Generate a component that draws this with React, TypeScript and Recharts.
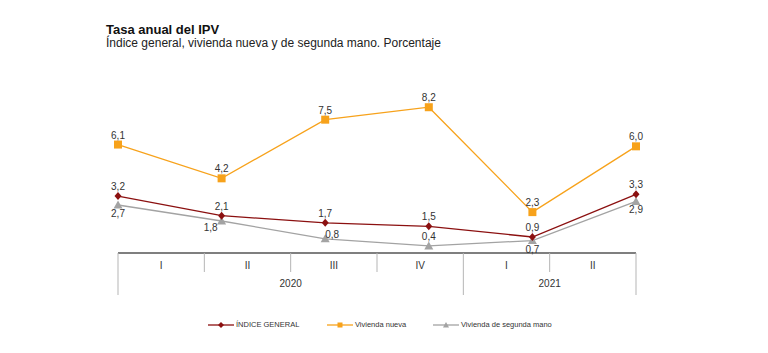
import React from "react";
import { LineChart, Line, XAxis, YAxis, LabelList } from "recharts";

const quarters = ["I", "II", "III", "IV", "I", "II"];
const years = ["2020", "2021"];
const yearSpans = [4, 2];
const indiceGeneral = [3.2, 2.1, 1.7, 1.5, 0.9, 3.3];
const viviendaNueva = [6.1, 4.2, 7.5, 8.2, 2.3, 6.0];
const segundaMano = [2.7, 1.8, 0.8, 0.4, 0.7, 2.9];

const W = 768, H = 353;
const M = { top: 93, right: 132, bottom: 50, left: 118 };
const AXIS_H = 50;
const AXIS_Y = H - M.bottom - AXIS_H;
const BAND = (W - M.left - M.right) / quarters.length;

const RED = "#8B1010";
const ORANGE = "#F7A21B";
const GRAY = "#A3A3A3";
const FONT = "'Liberation Sans', Arial, sans-serif";

// where each value label sits relative to its marker
type Pos = "above" | "below" | "left" | "right";
const redPos: Pos[] = ["above", "above", "above", "above", "above", "above"];
const orangePos: Pos[] = ["above", "above", "above", "above", "above", "above"];
const grayPos: Pos[] = ["below", "left", "right", "above", "below", "below"];

const yearStarts = yearSpans.map((_, i) => yearSpans.slice(0, i).reduce((s, v) => s + v, 0));

const data = quarters.map((q, i) => ({
  q,
  general: indiceGeneral[i],
  nueva: viviendaNueva[i],
  segunda: segundaMano[i],
}));

const fmt = (v: number) => v.toFixed(1).replace(".", ",");

function QuarterTick(props: any) {
  const i = props.payload.index;
  const left = M.left + BAND * i;
  const cx = left + BAND / 2;
  const g = yearStarts.indexOf(i);
  const last = i === quarters.length - 1;
  return (
    <g>
      <line x1={left} x2={left} y1={AXIS_Y} y2={g >= 0 ? AXIS_Y + 42 : AXIS_Y + 19} stroke="#b5b5b5" />
      {last && <line x1={left + BAND} x2={left + BAND} y1={AXIS_Y} y2={AXIS_Y + 42} stroke="#b5b5b5" />}
      <text x={cx} y={AXIS_Y + 16} textAnchor="middle" fontSize={10} fill="#333" fontFamily={FONT}>{quarters[i]}</text>
      {g >= 0 && (
        <text x={left + (yearSpans[g] * BAND) / 2} y={AXIS_Y + 34} textAnchor="middle" fontSize={10} fill="#333" fontFamily={FONT}>
          {years[g]}
        </text>
      )}
    </g>
  );
}

function makeLabel(pos: Pos[]) {
  return function Lbl(props: any) {
    const { x, y, value, index } = props;
    const p = pos[index];
    let tx = x, ty = y - 6, anchor: "middle" | "start" | "end" = "middle";
    if (p === "below") ty = y + 12;
    if (p === "left") { tx = x - 4; ty = y + 10; anchor = "end"; }
    if (p === "right") { tx = x; ty = y - 1; anchor = "start"; }
    return (
      <text x={tx} y={ty} textAnchor={anchor} fontSize={10} fill="#333" fontFamily={FONT}>{fmt(value)}</text>
    );
  };
}

const Diamond = (p: any) => (
  <polygon key={p.index} points={`${p.cx},${p.cy - 4} ${p.cx + 3.5},${p.cy} ${p.cx},${p.cy + 4} ${p.cx - 3.5},${p.cy}`} fill={RED} />
);
const Square = (p: any) => <rect key={p.index} x={p.cx - 4} y={p.cy - 4} width={8} height={8} fill={ORANGE} />;
const Triangle = (p: any) => (
  <polygon key={p.index} points={`${p.cx},${p.cy - 4.5} ${p.cx + 4.5},${p.cy + 3.5} ${p.cx - 4.5},${p.cy + 3.5}`} fill={GRAY} />
);

function LegendItem({ color, label, marker }: { color: string; label: string; marker: "d" | "s" | "t" }) {
  return (
    <div style={{ display: "flex", alignItems: "center" }}>
      <svg width={26} height={8}>
        <line x1={0} x2={26} y1={4} y2={4} stroke={color} strokeWidth={1.3} />
        {marker === "d" && <polygon points="13,1 16,4 13,7 10,4" fill={color} />}
        {marker === "s" && <rect x={10.5} y={1.5} width={5} height={5} fill={color} />}
        {marker === "t" && <polygon points="13,1 16,6.5 10,6.5" fill={color} />}
      </svg>
      <span style={{ fontSize: 7.5, color: "#333", marginLeft: 2 }}>{label}</span>
    </div>
  );
}

export default function App() {
  return (
    <div style={{ position: "fixed", left: 0, top: 0, width: W, height: H, background: "#fff", fontFamily: FONT }}>
      <div style={{ position: "absolute", left: 106, top: 23, fontSize: 13, lineHeight: "13px", fontWeight: "bold", color: "#111" }}>
        Tasa anual del IPV
      </div>
      <div style={{ position: "absolute", left: 106, top: 37.5, fontSize: 12, lineHeight: "11px", color: "#222" }}>
        Índice general, vivienda nueva y de segunda mano. Porcentaje
      </div>
      <div style={{ position: "absolute", left: 0, top: 0 }}>
        <LineChart width={W} height={H} data={data} margin={M}>
          <XAxis dataKey="q" height={AXIS_H} interval={0} tickLine={false} axisLine={{ stroke: "#555", strokeWidth: 1.5 }} tick={<QuarterTick />} />
          <YAxis hide domain={[0, 9]} />
          <Line dataKey="nueva" stroke={ORANGE} strokeWidth={1.3} dot={Square} isAnimationActive={false}>
            <LabelList dataKey="nueva" content={makeLabel(orangePos)} />
          </Line>
          <Line dataKey="segunda" stroke={GRAY} strokeWidth={1.3} dot={Triangle} isAnimationActive={false}>
            <LabelList dataKey="segunda" content={makeLabel(grayPos)} />
          </Line>
          <Line dataKey="general" stroke={RED} strokeWidth={1.3} dot={Diamond} isAnimationActive={false}>
            <LabelList dataKey="general" content={makeLabel(redPos)} />
          </Line>
        </LineChart>
      </div>
      <div style={{ position: "absolute", left: 208, top: 320, display: "flex" }}>
        <LegendItem color={RED} label="ÍNDICE GENERAL" marker="d" />
      </div>
      <div style={{ position: "absolute", left: 327, top: 320, display: "flex" }}>
        <LegendItem color={ORANGE} label="Vivienda nueva" marker="s" />
      </div>
      <div style={{ position: "absolute", left: 433, top: 320, display: "flex" }}>
        <LegendItem color={GRAY} label="Vivienda de segunda mano" marker="t" />
      </div>
    </div>
  );
}
